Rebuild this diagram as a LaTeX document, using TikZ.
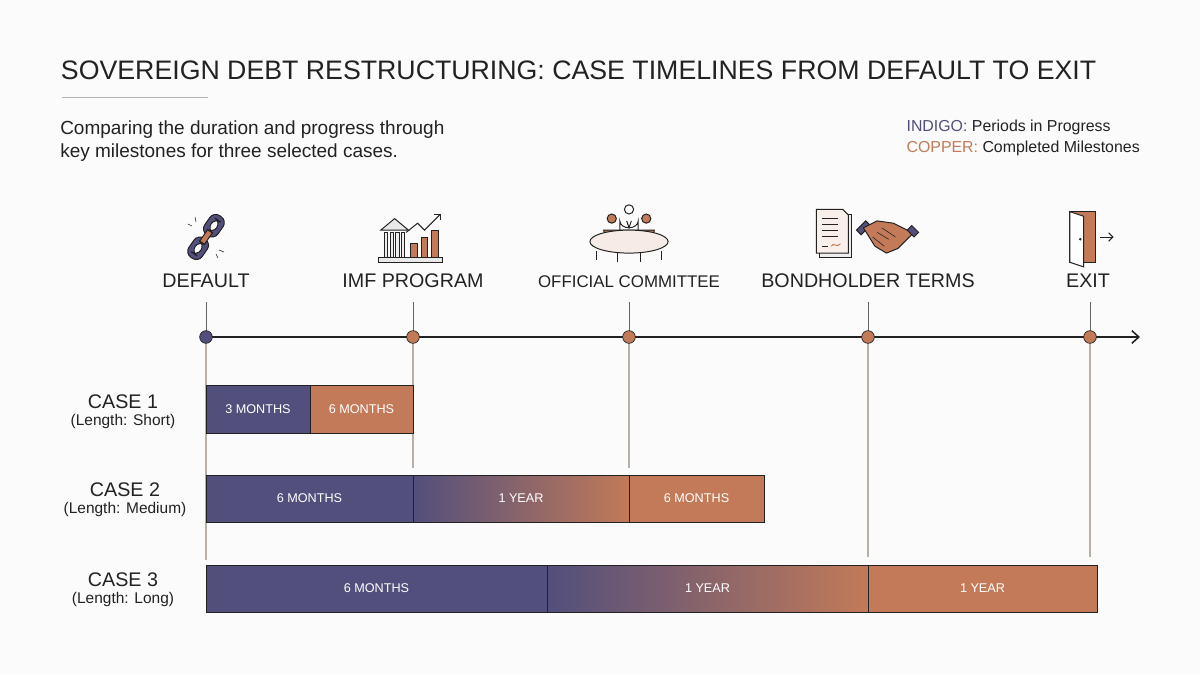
\documentclass[tikz,border=0pt]{standalone}
\usepackage{fontspec}
\setmainfont{Liberation Sans}
\usetikzlibrary{arrows.meta}
\definecolor{indigo}{HTML}{524F7C}
\definecolor{copper}{HTML}{C27A58}
\definecolor{grayline}{HTML}{B8B0A4}
\definecolor{ink}{HTML}{222222}
\begin{document}
\begin{tikzpicture}[x=0.025cm,y=-0.025cm,
  bar/.style={draw=ink,line width=0.6pt},
  btxt/.style={text=white,font=\fontsize{9}{10}\selectfont},
  mlab/.style={font=\fontsize{14}{16}\selectfont,text=ink},
  dot/.style={circle,draw=ink,line width=0.5pt,minimum size=9pt,inner sep=0pt},
  drop/.style={grayline,line width=0.8pt},
  icon/.style={draw=ink,line width=0.7pt},
  case/.style={align=center,text=ink}]
\useasboundingbox (0,0) rectangle (1200,675);
\fill[white!97!gray] (0,0) rectangle (1200,675);
\node[anchor=west,font=\fontsize{19}{22}\selectfont,text=ink] (title) at (56,70) {SOVEREIGN DEBT RESTRUCTURING: CASE TIMELINES FROM DEFAULT TO EXIT};
\draw[gray!60] (62,97) -- (208,97);
\node[anchor=north west,align=left,font=\fontsize{13.5}{17}\selectfont,text=ink,inner sep=0] (sub) at (60,120) {Comparing the duration and progress through\\key milestones for three selected cases.};
\node[anchor=north east,align=left,font=\fontsize{11.3}{15}\selectfont,inner sep=0] (leg) at (1140,120) {\textcolor{indigo}{INDIGO:} \textcolor{ink}{Periods in Progress}\\\textcolor{copper}{COPPER:} \textcolor{ink}{Completed Milestones}};
% drop lines
\draw[drop] (206,337) -- (206,560);
\draw[drop] (413,337) -- (413,468);
\draw[drop] (629,337) -- (629,468);
\draw[drop] (868,337) -- (868,557);
\draw[drop] (1090,337) -- (1090,557);
\foreach \x in {206,413,629,868,1090} \draw[ink!70] (\x,302) -- (\x,337);
% axis
\coordinate (axs) at (206,337);
\coordinate (axe) at (1140,337);
\draw[ink,line width=1.1pt,-{Straight Barb[length=5pt,width=9pt]}] (axs) -- (axe);
\node[dot,fill=indigo] (m0) at (206,337) {};
\node[dot,fill=copper] (m1) at (413,337) {};
\node[dot,fill=copper] (m2) at (629,337) {};
\node[dot,fill=copper] (m3) at (868,337) {};
\node[dot,fill=copper] (m4) at (1090,337) {};
\node[mlab] (l0) at (206,281) {DEFAULT};
\node[mlab] (l1) at (413,281) {IMF PROGRAM};
\node[mlab,font=\fontsize{12}{14}\selectfont] (l2) at (629,282) {OFFICIAL COMMITTEE};
\node[mlab] (l3) at (868,281) {BONDHOLDER TERMS};
\node[mlab] (l4) at (1088,281) {EXIT};
% broken chain
\begin{scope}[shift={(206,237)},rotate=55,scale=1.15]
\draw[icon,fill=indigo,even odd rule,rounded corners=5] (-22,-7) rectangle (-2,7) (-18,-3) rectangle (-6,3);
\draw[icon,fill=indigo,even odd rule,rounded corners=5] (2,-7) rectangle (22,7) (6,-3) rectangle (18,3);
\draw[icon,fill=copper] (-6,-2.5) rectangle (6,2.5);
\end{scope}
\draw[ink] (192,226)--(188,224) (196,222)--(195,217) (219,250)--(224,252) (216,254)--(218,258);
% bank icon
\begin{scope}[shift={(413,237)},scale=1.15]
\fill[ink!10] (-28,-6) -- (-16,-16) -- (-4,-6) -- cycle;
\draw[icon] (-28,-6) -- (-16,-16) -- (-4,-6) -- cycle;
\foreach \x in {-25,-20,-15,-10} \draw[icon,fill=ink!8] (\x,-4) rectangle (\x+3,18);
\draw[icon,fill=copper] (-2,6) rectangle (4,18);
\draw[icon,fill=copper] (7,0) rectangle (13,18);
\draw[icon,fill=copper] (16,-6) rectangle (22,18);
\draw[icon,fill=ink!10] (-30,18) rectangle (26,22);
\draw[ink,line width=0.7pt,-{Straight Barb[length=3pt]}] (-6,-4) -- (4,-12) -- (10,-6) -- (24,-20);
\end{scope}
% committee icon
\begin{scope}[shift={(629,237)},scale=1.15]
\draw[icon,fill=copper] (-22,-6) arc (180:0:7 and 8) -- cycle;
\draw[icon,fill=copper] (-15,-16) circle (4);
\draw[icon,fill=copper] (8,-6) arc (180:0:7 and 8) -- cycle;
\draw[icon,fill=copper] (15,-16) circle (4);
\draw[icon,fill=white] (-8,-6) -- (-8,-14) arc (180:0:8 and 6) -- (8,-6) -- cycle;
\draw[icon,fill=white] (0,-24) circle (4);
\draw[icon] (-2,-14) -- (0,-8) -- (2,-14);
\draw[icon] (-28,12) -- (-28,20) (28,12) -- (28,20) (-10,14) -- (-10,22) (10,14)--(10,22);
\draw[icon,fill=copper!15] (0,4) ellipse (34 and 10);
\end{scope}
% document + handshake
\begin{scope}[shift={(868,237)},scale=1.15]
\draw[icon,fill=ink!8] (-42,-20) rectangle (-14,18);
\draw[icon,fill=copper!12] (-45,-24) -- (-22,-24) -- (-17,-19) -- (-17,14) -- (-45,14) -- cycle;
\foreach \y in {-16,-11,-6,-1} \draw[ink] (-40,\y) -- (-26,\y);
\draw[ink] (-40,8) -- (-35,8);
\draw[copper,line width=0.7pt] (-32,8) .. controls (-30,4) and (-27,10) .. (-24,6);
\draw[icon,fill=indigo] (-10,-6) -- (-2,-14) -- (2,-10) -- (-6,-2) -- cycle;
\draw[icon,fill=indigo] (38,-10) -- (44,-4) -- (40,0) -- (34,-6) -- cycle;
\draw[icon,fill=copper] (-4,-8) -- (8,-14) -- (22,-12) -- (34,-6) -- (38,-2) -- (26,10) -- (16,14) -- (6,8) -- cycle;
\draw[ink] (8,-4) -- (18,2) (12,-8) -- (24,0) (4,0) -- (14,8);
\end{scope}
% exit door
\begin{scope}[shift={(1086,237)},scale=1.15]
\draw[icon,fill=copper] (-14,-22) rectangle (8,22);
\draw[icon,fill=white] (-14,-22) -- (-2,-18) -- (-2,26) -- (-14,22) -- cycle;
\fill[ink] (-5,2) circle (1.2);
\draw[ink,line width=0.7pt,-{Straight Barb[length=3pt]}] (12,0) -- (24,0);
\end{scope}
% case labels
\node[case] (c1) at (123,412) {\fontsize{14}{15}\selectfont CASE 1\\\fontsize{11}{12}\selectfont (Length: Short)};
\node[case] (c2) at (125,500) {\fontsize{14}{15}\selectfont CASE 2\\\fontsize{11}{12}\selectfont (Length: Medium)};
\node[case] (c3) at (123,590) {\fontsize{14}{15}\selectfont CASE 3\\\fontsize{11}{12}\selectfont (Length: Long)};
% case 1
\draw[bar,fill=indigo] (206,385) rectangle node[btxt] (b11) {3 MONTHS} (310,433);
\draw[bar,fill=copper] (310,385) rectangle node[btxt] (b12) {6 MONTHS} (413,433);
% case 2
\draw[bar,fill=indigo] (206,475) rectangle node[btxt] (b21) {6 MONTHS} (413,522);
\shade[left color=indigo,right color=copper] (413,475) rectangle (629,522);
\draw[bar] (413,475) rectangle node[btxt] (b22) {1 YEAR} (629,522);
\draw[bar,fill=copper] (629,475) rectangle node[btxt] (b23) {6 MONTHS} (764,522);
% case 3
\draw[bar,fill=indigo] (206,565) rectangle node[btxt] (b31) {6 MONTHS} (547,612);
\shade[left color=indigo,right color=copper] (547,565) rectangle (868,612);
\draw[bar] (547,565) rectangle node[btxt] (b32) {1 YEAR} (868,612);
\draw[bar,fill=copper] (868,565) rectangle node[btxt] (b33) {1 YEAR} (1097,612);
\end{tikzpicture}
\end{document}
